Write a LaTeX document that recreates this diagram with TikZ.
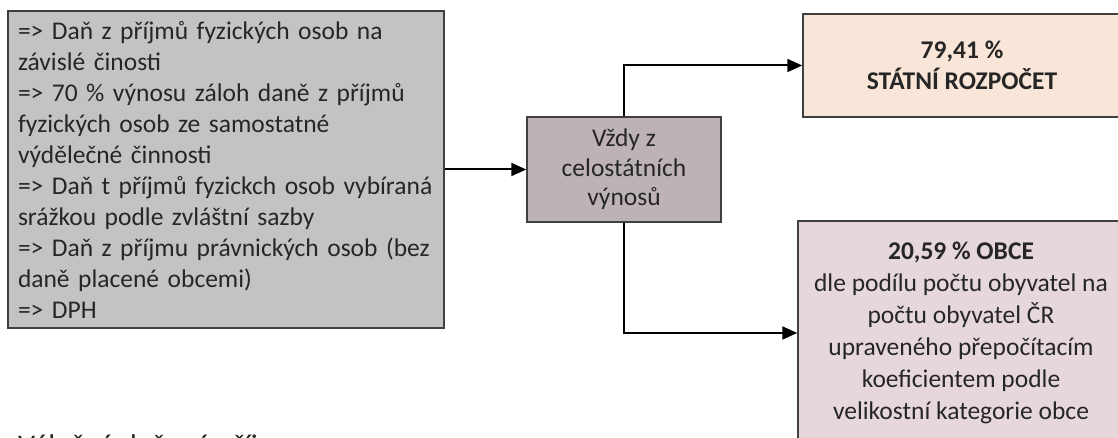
\documentclass[tikz,border=0pt]{standalone}
\usepackage{fontspec}
\setmainfont{Carlito}
\usetikzlibrary{arrows.meta}
\definecolor{srcfill}{HTML}{C3C3C3}
\definecolor{midfill}{HTML}{BDB3B7}
\definecolor{statefill}{HTML}{F9E6D8}
\definecolor{obcefill}{HTML}{E6D8DA}
\definecolor{edge}{HTML}{404040}
\definecolor{txt}{HTML}{262626}
\begin{document}
\begin{tikzpicture}[x=1pt,y=-1pt,
  box/.style={draw=edge, line width=1.5pt, inner sep=0pt, text=txt,
    font=\fontsize{25.5}{31}\selectfont},
  arr/.style={draw=black, line width=2pt, -{Triangle[length=15pt,width=13pt]}}]
\useasboundingbox (0,0) rectangle (1118,438);
\clip (0,0) rectangle (1118,438);
\node[box, fill=srcfill, minimum width=436pt, minimum height=317pt, inner xsep=10pt,
  text width=416pt, align=left] (src) at (226,169.5)
  {=> Daň z příjmů fyzických osob na\\
   závislé činosti\\
   => 70 \% výnosu záloh daně z příjmů\\
   fyzických osob ze samostatné\\
   výdělečné činnosti\\
   => Daň t příjmů fyzickch osob vybíraná\\
   srážkou podle zvláštní sazby\\
   => Daň z příjmu právnických osob (bez\\
   daně placené obcemi)\\
   => DPH};
\node[box, fill=midfill, minimum width=194pt, minimum height=105pt, align=center,
  font=\fontsize{25.5}{29.5}\selectfont] (mid) at (624,169.5)
  {Vždy z\\celostátních\\výnosů};
\node[box, fill=statefill, minimum width=318pt, minimum height=103pt, align=center] (state) at (962,65.5)
  {\bfseries 79,41 \%\\\bfseries STÁTNÍ ROZPOČET};
\node[box, fill=obcefill, minimum width=326pt, minimum height=224pt, align=center,
  font=\fontsize{25.5}{32}\selectfont] (obce) at (961,333)
  {\bfseries 20,59 \% OBCE\\
   dle podílu počtu obyvatel na\\
   počtu obyvatel ČR\\
   upraveného přepočítacím\\
   koeficientem podle\\
   velikostní kategorie obce};
\node[anchor=base west, inner sep=0pt, text=txt, font=\fontsize{30}{36}\selectfont] (title) at (18,455) {Výlučné daňové příjmy};
\draw[arr] (mid.west -| src.east) -- (mid.west);
\draw[arr] (mid.north) |- (state.west);
\draw[arr] (mid.south) |- (obce.west);
\end{tikzpicture}
\end{document}
